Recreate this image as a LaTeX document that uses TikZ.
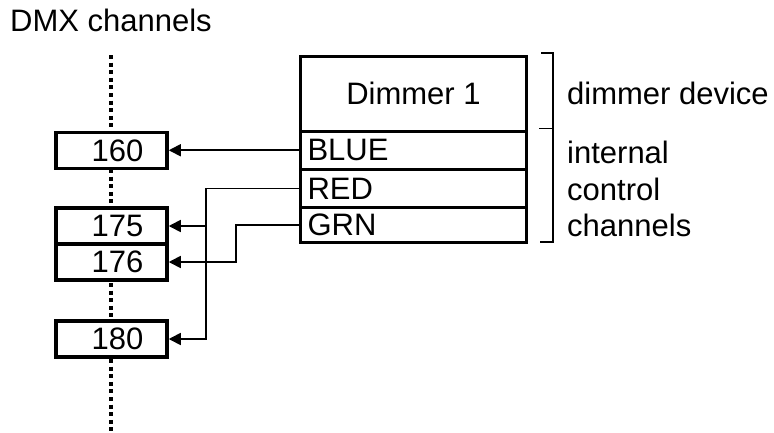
\documentclass[tikz,border=0pt]{standalone}
\usepackage{fontspec}
\setmainfont{Liberation Sans}
\usetikzlibrary{arrows.meta}
\tikzset{
  lbl/.style={font=\fontsize{31}{36.7}\selectfont, inner sep=0pt},
  chbox/.style={draw, line width=3.5pt, fill=white, minimum width=111pt, minimum height=36pt, inner sep=0pt, font=\fontsize{31}{36.7}\selectfont},
  devbox/.style={draw, line width=3pt, fill=white, minimum width=226pt, inner sep=0pt, font=\fontsize{31}{36.7}\selectfont},
  rowbox/.style={devbox, text width=212pt, inner xsep=7pt, align=left},
  conn/.style={line width=1.7pt, -{Triangle[length=12pt,width=12pt]}},
  dmxline/.style={line width=4pt, dash pattern=on 4pt off 3.6pt}
}
\begin{document}
\begin{tikzpicture}[x=1pt,y=-1pt]
\useasboundingbox (0,0) rectangle (774,432);
% title
\node[lbl, anchor=base west] (title) at (10,31) {DMX channels};
% DMX channel axis
\coordinate (axtop) at (111,55);
\coordinate (axbot) at (111,432);
\draw[dmxline] (axtop) -- (axbot);
% channel boxes
\node[chbox] (n160) at (111.5,150.5) {\hspace*{12pt}160};
\node[chbox] (n175) at (111.5,226) {\hspace*{12pt}175};
\node[chbox] (n176) at (111.5,262) {\hspace*{12pt}176};
\node[chbox] (n180) at (111.5,339) {\hspace*{12pt}180};
% dimmer device
\node[devbox, minimum height=74.5pt] (dim) at (413.5,93.75) {Dimmer 1};
\node[rowbox, minimum height=38.5pt] (blue) at (413.5,150.25) {BLUE};
\node[rowbox, minimum height=38pt] (red) at (413.5,188.5) {RED};
\node[rowbox, minimum height=35pt] (grn) at (413.5,225) {GRN};
% connectors
\coordinate (redx) at (206,0);
\coordinate (grnx) at (236,0);
\draw[conn] (blue.west) -- (blue.west -| n160.east);
\draw[conn] (red.west) -| (redx |- n180.east) -- (n180.east);
\draw[conn] (redx |- n175.east) -- (n175.east);
\draw[conn] (grn.west) -| (grnx |- n176.east) -- (n176.east);
% brackets
\draw[line width=1.5pt] (541,53) -- (553,53) -- (553,128.5) -- (539,128.5);
\draw[line width=1.5pt] (553,128.5) -- (553,242) -- (540,242);
\node[lbl, anchor=base west] (devlbl) at (567,104) {dimmer device};
\node[lbl, anchor=base west, align=left] (chlbl) at (567,236.7) {internal\\control\\channels};
\end{tikzpicture}
\end{document}
